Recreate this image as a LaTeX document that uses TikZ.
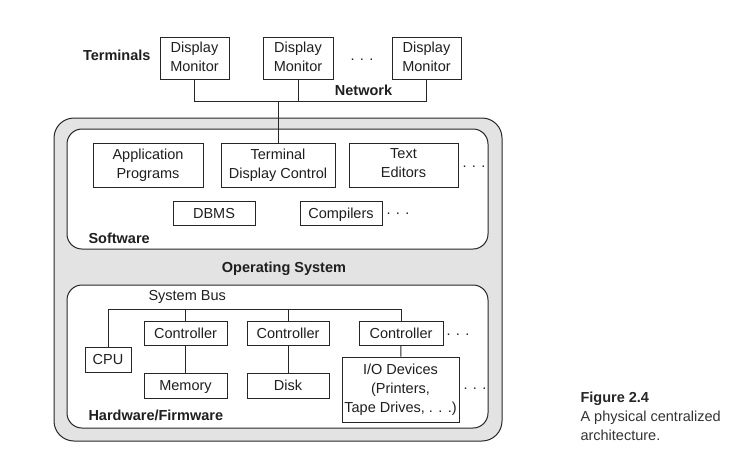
\documentclass[tikz,border=0pt]{standalone}
\usepackage{fontspec}
\setmainfont{Liberation Sans}
\newcommand\mystrut{\rule[-3.2pt]{0pt}{16.8pt}}
\begin{document}
\begin{tikzpicture}[x=1pt,y=-1pt,line width=1pt,
  txt/.style={font=\fontsize{14.5}{19}\selectfont, text=black!88},
  boxn/.style={txt,draw=black!85,fill=white,align=center,inner sep=0pt,
    execute at begin node=\mystrut, execute at end node=\mystrut},
  lbl/.style={txt,font=\fontsize{14.5}{19}\selectfont\bfseries,inner sep=0pt},
  dotsn/.style={txt,inner sep=0pt,anchor=base},
  conn/.style={draw=black!85,line width=1pt}]
\useasboundingbox (0,0) rectangle (729,451);
% containers
\draw[draw=black!85,fill=black!11,rounded corners=20pt] (54,118) rectangle (502,441);
\draw[draw=black!85,fill=white,rounded corners=15pt] (67,129) rectangle (488,249);
\draw[draw=black!85,fill=white,rounded corners=15pt] (67,285) rectangle (488,428);
% terminals
\node[lbl,anchor=east] (term) at (151,55) {Terminals};
\node[boxn,minimum width=69pt,minimum height=42pt] (dm1) at (194.5,58.5) {Display\\Monitor};
\node[boxn,minimum width=70pt,minimum height=42pt] (dm2) at (298,58.5) {Display\\Monitor};
\node[boxn,minimum width=69pt,minimum height=42pt] (dm3) at (426.5,58.5) {Display\\Monitor};
\node[dotsn] (d1) at (362,60) {. . .};
\node[lbl] (net) at (363.5,90) {Network};
\coordinate (netL) at (194.5,101);
\coordinate (netR) at (426.5,101);
% software
\node[boxn,minimum width=110pt,minimum height=44pt] (app) at (148,165) {Application\\Programs};
\node[boxn,minimum width=114pt,minimum height=44pt] (tdc) at (278,165) {Terminal\\Display Control};
\node[boxn,minimum width=109pt,minimum height=44pt] (ted) at (403.5,165) {Text\\Editors};
\node[dotsn] (d2) at (474,167) {. . .};
\node[boxn,minimum width=82pt,minimum height=24pt] (dbms) at (214,213) {DBMS};
\node[boxn,minimum width=82pt,minimum height=24pt] (comp) at (341,213) {Compilers};
\node[dotsn] (d3) at (398,214) {. . .};
\node[lbl,anchor=west] (sw) at (88,238) {Software};
\node[lbl] (os) at (284,268.5) {Operating System};
\draw[conn] (dm1.south) -- (netL) -- (netR) -- (dm3.south);
\draw[conn] (dm2.south) -- (dm2.south |- netL);
\draw[conn] (tdc.north) -- (tdc.north |- netL);
% hardware
\node[txt,inner sep=0pt,anchor=west] (sbus) at (148,297) {System Bus};
\coordinate (busL) at (108,309);
\coordinate (busR) at (401,309);
\node[boxn,minimum width=46pt,minimum height=25pt] (cpu) at (108,359.5) {CPU};
\node[boxn,minimum width=83pt,minimum height=24pt] (c1) at (185.5,333) {Controller};
\node[boxn,minimum width=82pt,minimum height=24pt] (c2) at (288,333) {Controller};
\node[boxn,minimum width=84pt,minimum height=24pt] (c3) at (401,333) {Controller};
\node[dotsn] (d4) at (458,335) {. . .};
\node[boxn,minimum width=83pt,minimum height=25pt] (mem) at (185.5,385.5) {Memory};
\node[boxn,minimum width=82pt,minimum height=25pt] (disk) at (288,385.5) {Disk};
\node[boxn,minimum width=117pt,minimum height=65pt] (io) at (400.5,389.5) {I/O Devices\\(Printers,\\Tape Drives, . . .)};
\node[dotsn] (d5) at (475,389) {. . .};
\node[lbl,anchor=west] (hw) at (88,415) {Hardware/Firmware};
\draw[conn] (cpu.north) -- (busL) -- (busR) -- (c3.north);
\draw[conn] (c1.north) -- (c1.north |- busL);
\draw[conn] (c2.north) -- (c2.north |- busL);
\draw[conn] (c1) -- (mem);
\draw[conn] (c2) -- (disk);
\draw[conn] (c3) -- (io);
% caption
\node[lbl,anchor=base west,text=black!85] (cap1) at (580,402) {Figure 2.4};
\node[txt,inner sep=0pt,anchor=base west,text=black!80] (cap2) at (580,421) {A physical centralized};
\node[txt,inner sep=0pt,anchor=base west,text=black!80] (cap3) at (580,440) {architecture.};
\end{tikzpicture}
\end{document}
